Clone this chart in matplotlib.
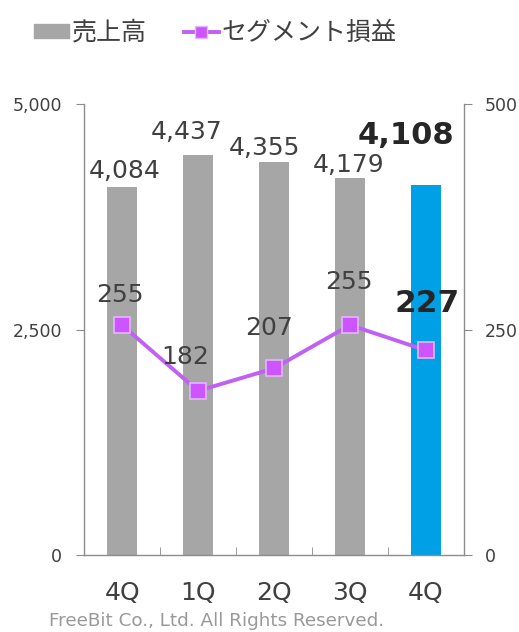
import numpy as np
import matplotlib
matplotlib.use("Agg")
import matplotlib.pyplot as plt
from matplotlib.patches import Patch
from matplotlib.lines import Line2D

plt.rcParams['font.family'] = 'DejaVu Sans'
cjk = ['Noto Sans CJK JP', 'DejaVu Sans']

# data
quarters = ['4Q', '1Q', '2Q', '3Q', '4Q']
sales = [4084, 4437, 4355, 4179, 4108]
segment_profit = [255, 182, 207, 255, 227]
sales_labels = ['4,084', '4,437', '4,355', '4,179', '4,108']

# label offsets (points) as placed in the original slide
sales_offsets = [(2, 6), (-8, 11.5), (-7, 5), (-1, 4.5), (-14.5, 29.5)]
profit_offsets = [(-1.5, 16.5), (-9, 19.5), (-3.5, 24), (-1, 26), (0.5, 27.5)]

bar_gray = '#A6A6A6'
bar_blue = '#00A0E6'
line_col = '#C060F5'
text_col = '#404040'
axis_col = '#8C8C8C'

fig = plt.figure(figsize=(5.19, 6.32), dpi=100)
ax = fig.add_axes([0.162, 0.122, 0.732, 0.713])
ax2 = ax.twinx()

x = np.arange(len(quarters))
colors = [bar_gray] * (len(quarters) - 1) + [bar_blue]
ax.bar(x, sales, width=0.4, color=colors, zorder=2)

ax2.plot(x, segment_profit, color=line_col, lw=2.8, marker='s', markersize=11,
         markerfacecolor='#CC55FF', markeredgecolor='#E2B8FF', markeredgewidth=1.2,
         zorder=3)

ax.set_xlim(-0.5, len(quarters) - 0.5)
ax.set_ylim(0, 5000)
ax2.set_ylim(0, 500)
ax.set_yticks([0, 2500, 5000])
ax.set_yticklabels(['0', '2,500', '5,000'])
ax2.set_yticks([0, 250, 500])
ax2.set_yticklabels(['0', '250', '500'])

ax.set_xticks(x)
ax.set_xticklabels(quarters)
ax.set_xticks(np.arange(0.5, len(quarters) - 1), minor=True)
ax.tick_params(axis='x', which='major', length=0, pad=19, labelsize=18, labelcolor=text_col)
ax.tick_params(axis='x', which='minor', direction='in', length=6, color=axis_col)
ax.tick_params(axis='y', direction='out', length=6, color=axis_col, pad=10,
               labelsize=12.5, labelcolor=text_col)
ax2.tick_params(axis='y', direction='out', length=6, color=axis_col, pad=9,
                labelsize=12.5, labelcolor=text_col)

for a in (ax, ax2):
    a.spines['top'].set_visible(False)
    for s in ('left', 'right', 'bottom'):
        a.spines[s].set_color(axis_col)
        a.spines[s].set_linewidth(1)
ax.spines['right'].set_visible(False)
ax2.spines['left'].set_visible(False)
ax2.spines['bottom'].set_visible(False)

# bar labels
for i, (v, lab) in enumerate(zip(sales, sales_labels)):
    last = i == len(sales) - 1
    ax.annotate(lab, (i, v), xytext=sales_offsets[i], textcoords='offset points',
                ha='center', va='baseline', fontsize=22 if last else 18,
                fontweight='bold' if last else 'normal',
                color='#262626' if last else text_col)

# line labels
for i, v in enumerate(segment_profit):
    last = i == len(segment_profit) - 1
    ax2.annotate(str(v), (i, v), xytext=profit_offsets[i], textcoords='offset points',
                 ha='center', va='baseline', fontsize=22.5 if last else 18,
                 fontweight='bold' if last else 'normal',
                 color='#262626' if last else text_col)

handles = [Patch(color=bar_gray),
           Line2D([0], [0], color=line_col, lw=2.8, marker='s', markersize=9,
                  markerfacecolor='#CC55FF', markeredgecolor='#E2B8FF')]
fig.legend(handles, ['売上高', 'セグメント損益'], loc='upper left', ncol=2,
           bbox_to_anchor=(0.022, 1.004), frameon=False,
           prop={'family': cjk, 'size': 18},
           handlelength=1.4, handleheight=0.5, handletextpad=0.1, columnspacing=1.5,
           labelcolor=text_col)

fig.text(0.418, 0.017, 'FreeBit Co., Ltd. All Rights Reserved.', ha='center',
         va='center', fontsize=13.2, color='#999999')

fig.savefig('out.png', dpi=100)
